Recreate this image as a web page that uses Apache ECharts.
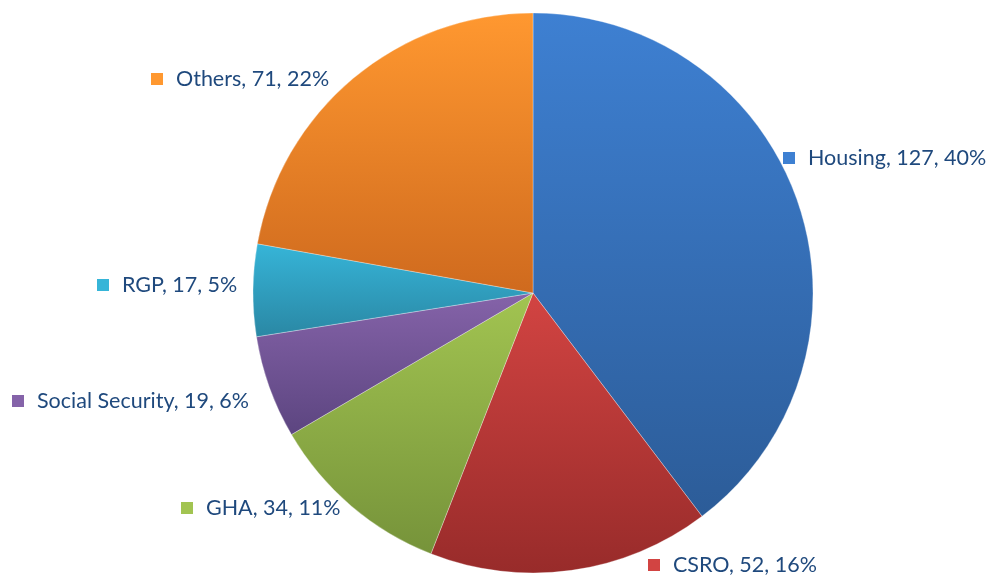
<!DOCTYPE html>
<html><head><meta charset="utf-8">
<script src="https://cdn.jsdelivr.net/npm/echarts@6/dist/echarts.min.js"></script>
<style>html,body{margin:0;padding:0;background:#fff}#c{width:989px;height:576px}</style>
</head><body><div id="c"></div>
<script>
const categories = ['Housing', 'CSRO', 'GHA', 'Social Security', 'RGP', 'Others'];
const values = [127, 52, 34, 19, 17, 71];

const topColors = ['#3e80d2', '#d24442', '#a2c451', '#8563a9', '#36b5d8', '#ff9830'];
const bottomColors = ['#2c5c98', '#982b2a', '#76933a', '#5c4580', '#2a87a4', '#cf6a1e'];
const labelPos = [[783,158],[648,565],[181,508],[12,401],[97,285],[151,79]];

const total = values.reduce((a,b)=>a+b,0);
const rich = { t: { fontFamily: 'Lato', fontSize: 21.5, color: '#1f497d', padding: [0,0,0,13] } };
categories.forEach((c,i)=>{
  rich['s'+i] = { width: 12, height: 12, backgroundColor: topColors[i] };
});

const chart = echarts.init(document.getElementById('c'));
chart.setOption({
  animation: false,
  series: [{
    type: 'pie',
    center: [533, 293],
    radius: 280,
    startAngle: 90,
    clockwise: true,
    data: categories.map((c,i)=>({
      name: c, value: values[i],
      itemStyle: { color: new echarts.graphic.LinearGradient(0,0,0,1,[
        {offset:0,color:topColors[i]},{offset:1,color:bottomColors[i]}]) }
    })),
    itemStyle: { borderColor: 'rgba(255,255,255,0.5)', borderWidth: 0.6 },
    label: {
      show: true, position: 'outside', overflow: 'none', width: 400,
      formatter: p => '{s'+p.dataIndex+'|}{t|'+p.name+', '+p.value+', '+Math.round(p.value/total*100)+'%}',
      rich: rich
    },
    labelLine: { show: false },
    labelLayout: p => ({ x: labelPos[p.dataIndex][0], y: labelPos[p.dataIndex][1], align: 'left', verticalAlign: 'middle' }),
    emphasis: { disabled: true }
  }]
});
</script></body></html>
